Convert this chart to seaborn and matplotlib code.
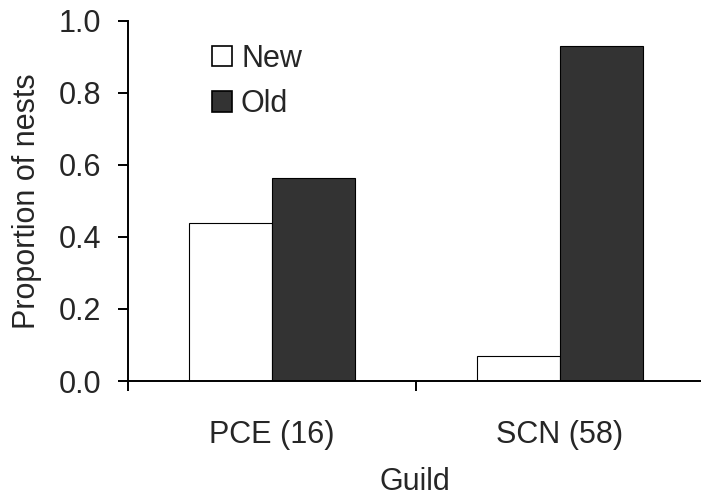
import matplotlib
matplotlib.use("Agg")
import matplotlib.pyplot as plt
import seaborn as sns
import pandas as pd
from matplotlib.patches import Patch

guilds = ["PCE (16)", "SCN (58)"]
nest_types = ["New", "Old"]
new_vals = [0.4375, 0.069]
old_vals = [0.5625, 0.931]
y_ticks = [0.0, 0.2, 0.4, 0.6, 0.8, 1.0]

sns.set_theme(style="white")
plt.rcParams['font.family'] = ['Liberation Sans', 'DejaVu Sans']

df = pd.DataFrame({
    "Guild": guilds * 2,
    "Type": ["New"] * len(guilds) + ["Old"] * len(guilds),
    "Proportion": new_vals + old_vals,
})

colors = {"New": "#ffffff", "Old": "#333333"}
FS = 22

fig = plt.figure(figsize=(7.01, 4.98), dpi=100)
ax = fig.add_axes([128 / 701, (498 - 381) / 498, 574 / 701, 360 / 498])

sns.barplot(data=df, x="Guild", y="Proportion", hue="Type", hue_order=nest_types,
            palette=colors, width=0.576, gap=0, edgecolor="black", linewidth=0.8,
            ax=ax, legend=False)

ax.set_xlim(-0.5, -0.5 + 574 / 288)
ax.set_ylim(0, 1.0)
ax.set_yticks(y_ticks)
ax.set_yticklabels([f"{v:.1f}" for v in y_ticks])
ax.set_xticks([0, 1])
ax.set_xticklabels(guilds)
ax.set_xticks([-0.5, 0.5], minor=True)

for s in ["top", "right"]:
    ax.spines[s].set_visible(False)
for s in ["left", "bottom"]:
    ax.spines[s].set_linewidth(1.4)
    ax.spines[s].set_color("black")

ax.tick_params(axis="y", which="major", direction="out", length=7.2, width=1.4,
               color="black", labelsize=FS, pad=12, left=True)
ax.tick_params(axis="x", which="major", length=0, labelsize=FS, pad=28)
ax.tick_params(axis="x", which="minor", direction="out", length=7.2, width=1.4,
               color="black", bottom=True)

ax.set_ylabel("Proportion of nests", fontsize=FS, labelpad=12)
ax.set_xlabel("Guild", fontsize=FS, labelpad=12)

handles = [Patch(facecolor=colors[t], edgecolor="black", linewidth=1.2, label=t)
           for t in nest_types]
ax.legend(handles=handles, loc="upper left", bbox_to_anchor=(0.125, 0.97),
          frameon=False, fontsize=FS, handlelength=0.65, handleheight=0.65,
          handletextpad=0.3, labelspacing=0.5, borderaxespad=0)

fig.savefig("out.png", dpi=100)
